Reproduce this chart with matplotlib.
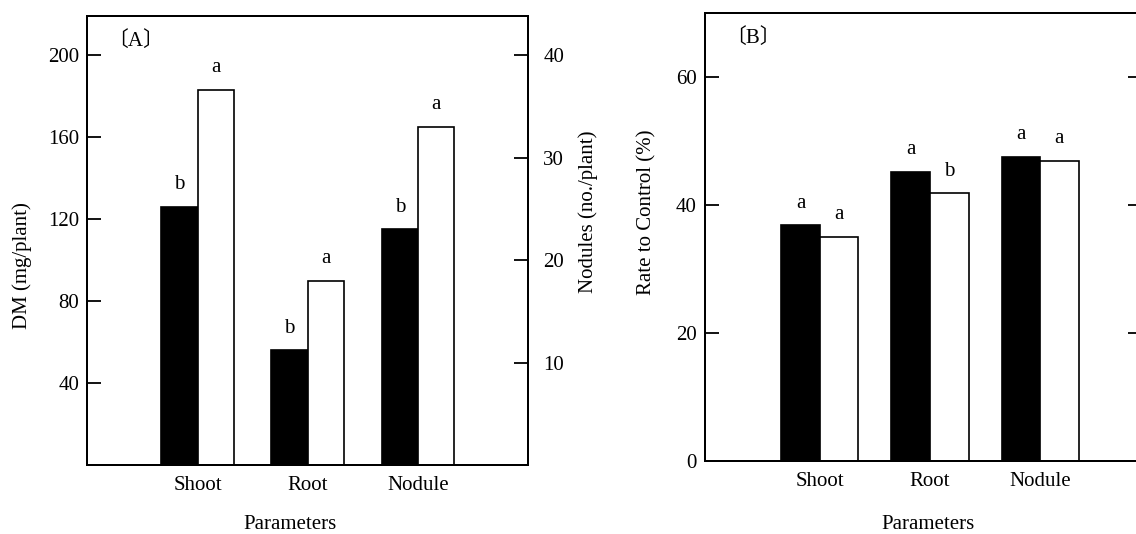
import matplotlib
matplotlib.use("Agg")
import matplotlib.pyplot as plt
import numpy as np

plt.rcParams['font.family'] = ['Liberation Serif', 'Noto Sans CJK JP']
plt.rcParams['font.size'] = 15

# data
categories = ['Shoot', 'Root', 'Nodule']

# panel A: dry matter (mg/plant) for shoot/root, nodule number on right axis
dm_black = [126, 56]
dm_white = [183, 90]
nod_black = [23.0]
nod_white = [33.0]
letters_a_black = ['b', 'b', 'b']
letters_a_white = ['a', 'a', 'a']

# panel B: rate to control (%)
rate_black = [36.8, 45.2, 47.5]
rate_white = [35.0, 41.8, 46.9]
letters_b_black = ['a', 'a', 'a']
letters_b_white = ['a', 'b', 'a']

W = 0.33
fig = plt.figure(figsize=(11.36, 5.34), dpi=100)


def label_bar(ax, x, h, txt):
    ax.annotate(txt, (x, h), xytext=(0, 16), textcoords='offset points',
                ha='center', va='center', fontsize=15)


# ---------- panel A ----------
axA = fig.add_axes([0.077, 0.1292, 0.3878, 0.8401])
axA2 = axA.twinx()
x = np.arange(1, 4)

axA.bar(x[:2] - W / 2, dm_black, W, color='black', edgecolor='black', lw=1.2)
axA.bar(x[:2] + W / 2, dm_white, W, color='white', edgecolor='black', lw=1.2)
axA2.bar(x[2:] - W / 2, nod_black, W, color='black', edgecolor='black', lw=1.2)
axA2.bar(x[2:] + W / 2, nod_white, W, color='white', edgecolor='black', lw=1.2)

for i in range(2):
    label_bar(axA, x[i] - W / 2, dm_black[i], letters_a_black[i])
    label_bar(axA, x[i] + W / 2, dm_white[i], letters_a_white[i])
label_bar(axA2, x[2] - W / 2, nod_black[0], letters_a_black[2])
label_bar(axA2, x[2] + W / 2, nod_white[0], letters_a_white[2])

axA.set_xlim(0, 4)
axA.set_ylim(0, 219)
axA2.set_ylim(0, 219 / 5)
axA.set_yticks([40, 80, 120, 160, 200])
axA2.set_yticks([10, 20, 30, 40])
axA.set_xticks(x)
axA.set_xticklabels(categories)
axA.tick_params(axis='x', length=0, pad=8)
axA.tick_params(axis='y', direction='in', length=10, width=1.3, pad=6)
axA2.tick_params(axis='y', direction='in', length=10, width=1.3, pad=11)
axA.set_ylabel('DM (mg/plant)')
axA.yaxis.set_label_coords(-0.125, 0.444)
axA2.set_ylabel('Nodules (no./plant)', rotation=90)
axA2.yaxis.set_label_coords(1.113, 0.564)
axA.set_xlabel('Parameters')
axA.xaxis.set_label_coords(0.46, -0.111)
axA.text(0.045, 0.945, '〔A〕', transform=axA.transAxes, ha='left', va='center',
         fontsize=15)
for a in (axA, axA2):
    for s in a.spines.values():
        s.set_linewidth(1.4)

# ---------- panel B ----------
axB = fig.add_axes([0.6206, 0.1367, 0.3850, 0.839])
axB2 = axB.twinx()
WB = 0.35
axB.bar(x - WB / 2, rate_black, WB, color='black', edgecolor='black', lw=1.2)
axB.bar(x + WB / 2, rate_white, WB, color='white', edgecolor='black', lw=1.2)
for i in range(3):
    label_bar(axB, x[i] - WB / 2, rate_black[i], letters_b_black[i])
    label_bar(axB, x[i] + WB / 2, rate_white[i], letters_b_white[i])

axB.set_xlim(-0.045, 3.93)
axB.set_ylim(0, 70)
axB2.set_ylim(0, 70)
axB.set_yticks([0, 20, 40, 60])
axB2.set_yticks([20, 40, 60])
axB2.set_yticklabels([])
axB.set_xticks(x)
axB.set_xticklabels(categories)
axB.tick_params(axis='x', length=0, pad=8)
axB.tick_params(axis='y', direction='in', length=10, width=1.3, pad=6)
axB2.tick_params(axis='y', direction='in', length=10, width=1.3)
axB.set_ylabel('Rate to Control (%)')
axB.yaxis.set_label_coords(-0.11, 0.556)
axB.set_xlabel('Parameters')
axB.xaxis.set_label_coords(0.51, -0.121)
axB.text(0.045, 0.945, '〔B〕', transform=axB.transAxes, ha='left', va='center',
         fontsize=15)
for a in (axB, axB2):
    for s in a.spines.values():
        s.set_linewidth(1.4)

fig.savefig('out.png', dpi=100)
